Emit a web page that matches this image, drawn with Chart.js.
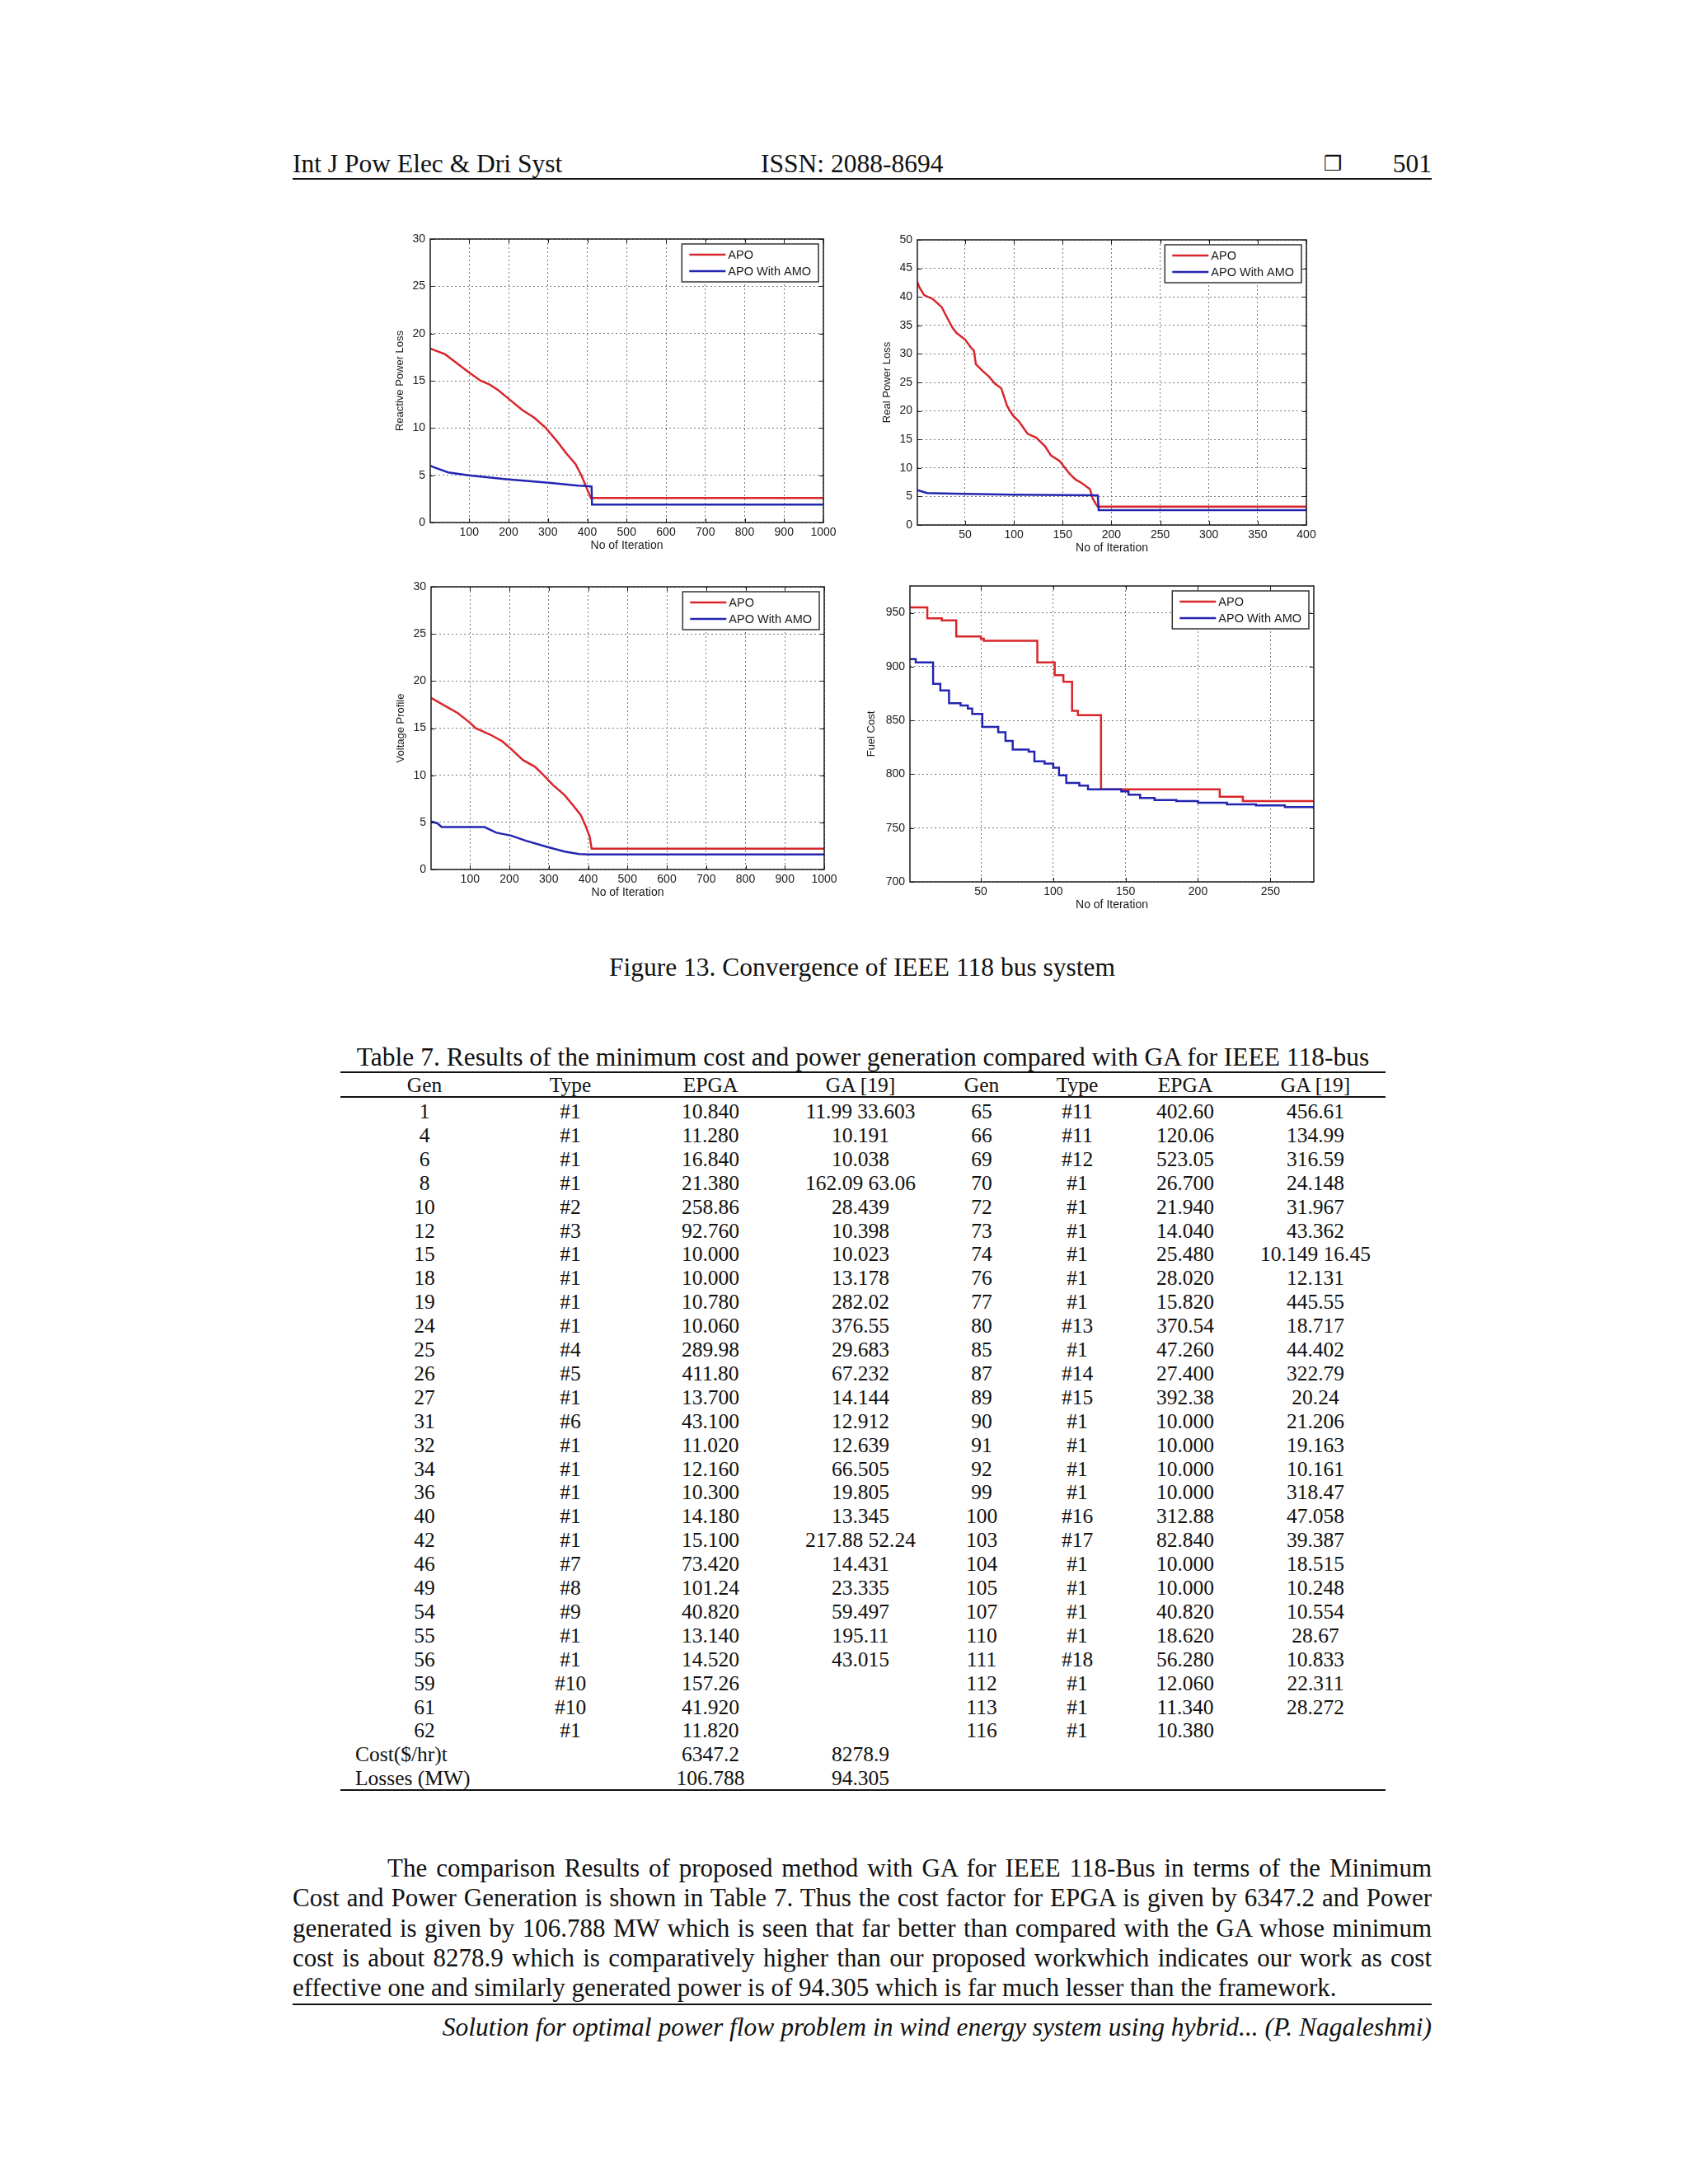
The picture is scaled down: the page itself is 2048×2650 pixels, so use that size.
<!DOCTYPE html>
<html>
<head>
<meta charset="utf-8">
<title>Convergence of IEEE 118 bus system</title>
<script src="https://cdn.jsdelivr.net/npm/chart.js@4.4.0/dist/chart.umd.min.js"></script>
<style>
  body { margin: 0; background: #fff; }
  #page { position: relative; width: 2048px; height: 2650px; background: #fff; overflow: hidden;
          font-family: "Liberation Serif", "Times New Roman", serif; color: #111; }
  .txt { position: absolute; white-space: nowrap; font-size: 31.5px; line-height: 36px; }
  .rule { position: absolute; background: #111; }
  .plot { position: absolute; }
  .cell { position: absolute; width: 240px; text-align: center; font-size: 25.5px; line-height: 28px; white-space: nowrap; }
  #para { position: absolute; left: 355px; top: 2249px; width: 1382px; font-size: 31px; line-height: 36.3px; }
  #para div { text-align: justify; text-align-last: justify; white-space: nowrap; }
  #para div.last { text-align-last: left; }
</style>
</head>
<body>
<div id="page">
  <div class="txt" style="left:355px; top:181px;">Int J Pow Elec &amp; Dri Syst</div>
  <div class="txt" style="left:923px; top:181px;">ISSN: 2088-8694</div>
  <div class="txt" style="left:1606px; top:181px; font-family:'DejaVu Sans'; font-size:25px;">&#x2752;</div>
  <div class="txt" style="right:311px; top:181px;">501</div>
  <div class="rule" style="left:355px; top:216px; width:1382px; height:2px;"></div>

  <div class="txt" style="left:546px; width:1000px; text-align:center; top:1156px;">Figure 13. Convergence of IEEE 118 bus system</div>

  <div class="txt" style="left:297px; width:1500px; text-align:center; top:1265px;">Table 7. Results of the minimum cost and power generation compared with GA for IEEE 118-bus</div>
  <div class="rule" style="left:413px; top:1300px; width:1268px; height:2px;"></div>
  <div class="rule" style="left:413px; top:1330px; width:1268px; height:2px;"></div>
  <div class="rule" style="left:413px; top:2171px; width:1268px; height:2px;"></div>

  <div id="para">
    <div style="text-indent:115px;">The comparison Results of proposed method with GA for IEEE 118-Bus in terms of the Minimum</div>
    <div>Cost and Power Generation is shown in Table 7. Thus the cost factor for EPGA is given by 6347.2 and Power</div>
    <div>generated is given by 106.788 MW which is seen that far better than compared with the GA whose minimum</div>
    <div>cost is about 8278.9 which is comparatively higher than our proposed workwhich indicates our work as cost</div>
    <div class="last">effective one and similarly generated power is of 94.305 which is far much lesser than the framework.</div>
  </div>
  <div class="rule" style="left:355px; top:2431px; width:1382px; height:2px;"></div>
  <div class="txt" style="right:311px; top:2442px; font-style:italic;">Solution for optimal power flow problem in wind energy system using hybrid... (P. Nagaleshmi)</div>
</div>

<script>
// ============================================
// Chart data
// ============================================

// Reactive power loss, x = iteration
const reactApoX = [1, 39, 77, 99, 129, 152, 174, 197, 235, 265, 295, 325, 347, 370, 385, 396, 404, 409, 1000];
const reactApoY = [18.4, 17.8, 16.6, 15.9, 15.0, 14.6, 14.0, 13.2, 11.9, 11.1, 10.0, 8.5, 7.3, 6.2, 5.0, 3.9, 3.1, 2.6, 2.6];
const reactAmoX = [1, 17, 47, 99, 189, 302, 377, 400, 411, 412, 1000];
const reactAmoY = [6.0, 5.75, 5.3, 5.0, 4.6, 4.2, 3.9, 3.85, 3.8, 1.9, 1.9];

// Real power loss
const realApoX = [1, 3, 8, 17, 26, 32, 37, 41, 50, 56, 59, 61, 68, 74, 81, 87, 93, 99, 105, 114, 123, 132, 138, 147, 157, 163, 170, 178, 181, 184, 186, 400];
const realApoY = [42.6, 41.7, 40.3, 39.6, 38.2, 36.2, 34.6, 33.7, 32.5, 31.1, 30.6, 28.2, 27.0, 26.1, 24.7, 24.0, 20.9, 19.2, 18.2, 16.0, 15.3, 13.8, 12.2, 11.2, 9.0, 8.0, 7.3, 6.3, 4.6, 3.7, 3.2, 3.2];
const realAmoX = [1, 11, 38, 99, 186, 187, 400];
const realAmoY = [6.1, 5.6, 5.5, 5.3, 5.2, 2.6, 2.6];

// Voltage profile
const voltApoX = [1, 39, 69, 99, 114, 152, 182, 204, 235, 265, 287, 310, 340, 362, 381, 392, 404, 409, 1000];
const voltApoY = [18.2, 17.3, 16.6, 15.6, 15.0, 14.3, 13.6, 12.8, 11.6, 10.9, 10.0, 9.0, 7.9, 6.8, 5.8, 4.8, 3.5, 2.2, 2.2];
const voltAmoX = [1, 17, 28, 137, 167, 204, 242, 295, 340, 377, 400, 1000];
const voltAmoY = [5.1, 4.9, 4.5, 4.5, 3.9, 3.6, 3.05, 2.4, 1.9, 1.65, 1.6, 1.6];

// Fuel cost (step curves, value held until next change)
const fuelApoX = [1, 13, 23, 33, 50, 52, 89, 101, 107, 113, 117, 133, 215, 231, 280];
const fuelApoY = [955, 945, 943, 928, 926, 924, 904, 892, 886, 859, 855, 786, 779, 775, 775];
const fuelAmoX = [1, 5, 17, 22, 28, 36, 41, 44, 51, 62, 67, 72, 83, 87, 94, 100, 104, 109, 118, 124, 147, 152, 160, 170, 185, 200, 220, 240, 260, 280];
const fuelAmoY = [907, 904, 884, 878, 866, 864, 861, 856, 844, 839, 831, 823, 821, 812, 810, 806, 799, 792, 789.5, 786, 784, 781, 778, 776, 775, 773.5, 772, 771, 769.5, 768];

// Tick labels
const iterTicks1000 = [100, 200, 300, 400, 500, 600, 700, 800, 900, 1000];
const iterTicks400 = [50, 100, 150, 200, 250, 300, 350, 400];
const iterTicks280 = [50, 100, 150, 200, 250];
const lossTicks30 = [0, 5, 10, 15, 20, 25, 30];
const lossTicks50 = [0, 5, 10, 15, 20, 25, 30, 35, 40, 45, 50];
const costTicks = [700, 750, 800, 850, 900, 950];

const seriesNames = ['APO', 'APO With AMO'];

// Table 7
const genL = [1, 4, 6, 8, 10, 12, 15, 18, 19, 24, 25, 26, 27, 31, 32, 34, 36, 40, 42, 46, 49, 54, 55, 56, 59, 61, 62];
const typeL = ['#1', '#1', '#1', '#1', '#2', '#3', '#1', '#1', '#1', '#1', '#4', '#5', '#1', '#6', '#1', '#1', '#1', '#1', '#1', '#7', '#8', '#9', '#1', '#1', '#10', '#10', '#1'];
const epgaL = ['10.840', '11.280', '16.840', '21.380', '258.86', '92.760', '10.000', '10.000', '10.780', '10.060', '289.98', '411.80', '13.700', '43.100', '11.020', '12.160', '10.300', '14.180', '15.100', '73.420', '101.24', '40.820', '13.140', '14.520', '157.26', '41.920', '11.820'];
const gaL = ['11.99 33.603', '10.191', '10.038', '162.09 63.06', '28.439', '10.398', '10.023', '13.178', '282.02', '376.55', '29.683', '67.232', '14.144', '12.912', '12.639', '66.505', '19.805', '13.345', '217.88 52.24', '14.431', '23.335', '59.497', '195.11', '43.015', '', '', ''];
const genR = [65, 66, 69, 70, 72, 73, 74, 76, 77, 80, 85, 87, 89, 90, 91, 92, 99, 100, 103, 104, 105, 107, 110, 111, 112, 113, 116];
const typeR = ['#11', '#11', '#12', '#1', '#1', '#1', '#1', '#1', '#1', '#13', '#1', '#14', '#15', '#1', '#1', '#1', '#1', '#16', '#17', '#1', '#1', '#1', '#1', '#18', '#1', '#1', '#1'];
const epgaR = ['402.60', '120.06', '523.05', '26.700', '21.940', '14.040', '25.480', '28.020', '15.820', '370.54', '47.260', '27.400', '392.38', '10.000', '10.000', '10.000', '10.000', '312.88', '82.840', '10.000', '10.000', '40.820', '18.620', '56.280', '12.060', '11.340', '10.380'];
const gaR = ['456.61', '134.99', '316.59', '24.148', '31.967', '43.362', '10.149 16.45', '12.131', '445.55', '18.717', '44.402', '322.79', '20.24', '21.206', '19.163', '10.161', '318.47', '47.058', '39.387', '18.515', '10.248', '10.554', '28.67', '10.833', '22.311', '28.272', ''];
const tableHead = ['Gen', 'Type', 'EPGA', 'GA [19]', 'Gen', 'Type', 'EPGA', 'GA [19]'];
const totalsLabel = ['Cost($/hr)t', 'Losses (MW)'];
const totalsEpga = ['6347.2', '106.788'];
const totalsGa = ['8278.9', '94.305'];

// ============================================
// Styles
// ============================================
const RED = '#d8262b';
const BLUE = '#2424b2';
const INK = '#1a1a1a';
const SANS = '"Liberation Sans", Arial, sans-serif';

// ============================================
// MATLAB-like frame: box, inward ticks, legend
// ============================================
const matlabFrame = {
    id: 'matlabFrame',
    afterDatasetsDraw(chart) {
        const { ctx, chartArea: a, scales: { x, y } } = chart;
        ctx.save();
        ctx.strokeStyle = INK;
        ctx.lineWidth = 1.5;
        ctx.strokeRect(a.left, a.top, a.right - a.left, a.bottom - a.top);

        // inward tick marks on all four sides
        ctx.lineWidth = 1;
        ctx.beginPath();
        x.ticks.forEach(t => {
            const px = Math.round(x.getPixelForValue(t.value)) + 0.5;
            ctx.moveTo(px, a.bottom); ctx.lineTo(px, a.bottom - 5);
            ctx.moveTo(px, a.top); ctx.lineTo(px, a.top + 5);
        });
        y.ticks.forEach(t => {
            const py = Math.round(y.getPixelForValue(t.value)) + 0.5;
            ctx.moveTo(a.left, py); ctx.lineTo(a.left + 5, py);
            ctx.moveTo(a.right, py); ctx.lineTo(a.right - 5, py);
        });
        ctx.stroke();

        // legend box in the upper right corner
        const sets = chart.data.datasets;
        ctx.font = '14.5px ' + SANS;
        const textW = Math.max(...sets.map(d => ctx.measureText(d.label).width));
        const boxW = 9 + 44 + 3 + textW + 9;
        const boxH = 46;
        const bx = a.right - 6 - boxW;
        const by = a.top + 6;
        ctx.fillStyle = '#fff';
        ctx.fillRect(bx, by, boxW, boxH);
        ctx.strokeStyle = '#333';
        ctx.lineWidth = 1.5;
        ctx.strokeRect(bx, by, boxW, boxH);
        sets.forEach((d, i) => {
            const ly = by + 13 + i * 20;
            ctx.strokeStyle = d.borderColor;
            ctx.lineWidth = 2.5;
            ctx.beginPath();
            ctx.moveTo(bx + 9, ly);
            ctx.lineTo(bx + 53, ly);
            ctx.stroke();
            ctx.fillStyle = INK;
            ctx.textBaseline = 'middle';
            ctx.fillText(d.label, bx + 56, ly + 1);
        });
        ctx.restore();
    }
};

// ============================================
// Build one convergence plot
// ============================================
function buildPlot(id, box, axW, xRange, yRange, xTicks, yTicks, yTitle, series, stepped) {
    const padT = 15, padR = 25, axH = 40;
    const cv = document.createElement('canvas');
    cv.id = id;
    cv.className = 'plot';
    cv.width = box.r - box.l + axW + padR;
    cv.height = box.b - box.t + padT + axH;
    cv.style.left = (box.l - axW) + 'px';
    cv.style.top = (box.t - padT) + 'px';
    document.getElementById('page').appendChild(cv);

    const tickFont = { family: SANS, size: 14 };

    return new Chart(cv.getContext('2d'), {
        type: 'line',
        data: {
            datasets: series.map((s, i) => ({
                label: seriesNames[i],
                data: s.xs.map((v, k) => ({ x: v, y: s.ys[k] })),
                borderColor: s.color,
                borderWidth: 2.5,
                pointRadius: 0,
                tension: 0,
                stepped: stepped,
                fill: false,
                order: series.length - i
            }))
        },
        options: {
            responsive: false,
            animation: false,
            devicePixelRatio: 1,
            layout: { padding: { top: padT, right: padR, left: 0, bottom: 0 } },
            plugins: { legend: { display: false }, tooltip: { enabled: false } },
            scales: {
                x: {
                    type: 'linear',
                    min: xRange[0],
                    max: xRange[1],
                    afterBuildTicks: sc => { sc.ticks = xTicks.map(v => ({ value: v })); },
                    afterFit: sc => { sc.height = axH; },
                    grid: { color: '#7a7a7a', lineWidth: 1, drawTicks: false },
                    border: { display: false, dash: [2, 3] },
                    ticks: { font: tickFont, color: INK, padding: 4, maxRotation: 0,
                             callback: v => String(v) },
                    title: { display: true, text: 'No of Iteration', color: INK,
                             font: { family: SANS, size: 14 }, padding: { top: 0, bottom: 3 } }
                },
                y: {
                    type: 'linear',
                    min: yRange[0],
                    max: yRange[1],
                    afterBuildTicks: sc => { sc.ticks = yTicks.map(v => ({ value: v })); },
                    afterFit: sc => { sc.width = axW; },
                    grid: { color: '#7a7a7a', lineWidth: 1, drawTicks: false },
                    border: { display: false, dash: [2, 3] },
                    ticks: { font: tickFont, color: INK, padding: 6,
                             callback: v => String(v) },
                    title: { display: true, text: yTitle, color: INK,
                             font: { family: SANS, size: 13 }, padding: { top: 6, bottom: 0 } }
                }
            }
        },
        plugins: [matlabFrame]
    });
}

buildPlot('reactiveChart', { l: 522, t: 290, r: 999, b: 634 }, 50, [1, 1000], [0, 30],
    iterTicks1000, lossTicks30, 'Reactive Power Loss',
    [{ xs: reactApoX, ys: reactApoY, color: RED }, { xs: reactAmoX, ys: reactAmoY, color: BLUE }], false);

buildPlot('realChart', { l: 1113, t: 291, r: 1585, b: 637 }, 50, [1, 400], [0, 50],
    iterTicks400, lossTicks50, 'Real Power Loss',
    [{ xs: realApoX, ys: realApoY, color: RED }, { xs: realAmoX, ys: realAmoY, color: BLUE }], false);

buildPlot('voltageChart', { l: 523, t: 712, r: 1000, b: 1055 }, 50, [1, 1000], [0, 30],
    iterTicks1000, lossTicks30, 'Voltage Profile',
    [{ xs: voltApoX, ys: voltApoY, color: RED }, { xs: voltAmoX, ys: voltAmoY, color: BLUE }], false);

buildPlot('fuelChart', { l: 1104, t: 711, r: 1594, b: 1070 }, 60, [1, 280], [700, 975],
    iterTicks280, costTicks, 'Fuel Cost',
    [{ xs: fuelApoX, ys: fuelApoY, color: RED }, { xs: fuelAmoX, ys: fuelAmoY, color: BLUE }], true);

// ============================================
// Table 7 cells
// ============================================
const colCenters = [515, 692, 862, 1044, 1191, 1307, 1438, 1596];
const page = document.getElementById('page');

function addCell(text, cx, cy, leftAlign) {
    const d = document.createElement('div');
    d.className = 'cell';
    d.textContent = text;
    if (leftAlign) {
        d.style.textAlign = 'left';
        d.style.left = cx + 'px';
    } else {
        d.style.left = (cx - 120) + 'px';
    }
    d.style.top = (cy - 14) + 'px';
    page.appendChild(d);
}

tableHead.forEach((h, c) => addCell(h, colCenters[c], 1317));

const rowY0 = 1349, rowStep = 28.9;
genL.forEach((g, i) => {
    const cy = rowY0 + i * rowStep;
    [g, typeL[i], epgaL[i], gaL[i], genR[i], typeR[i], epgaR[i], gaR[i]]
        .forEach((v, c) => { if (v !== '') addCell(String(v), colCenters[c], cy); });
});

totalsLabel.forEach((lab, k) => {
    const cy = rowY0 + (genL.length + k) * rowStep;
    addCell(lab, 431, cy, true);
    addCell(totalsEpga[k], colCenters[2], cy);
    addCell(totalsGa[k], colCenters[3], cy);
});
</script>
</body>
</html>
